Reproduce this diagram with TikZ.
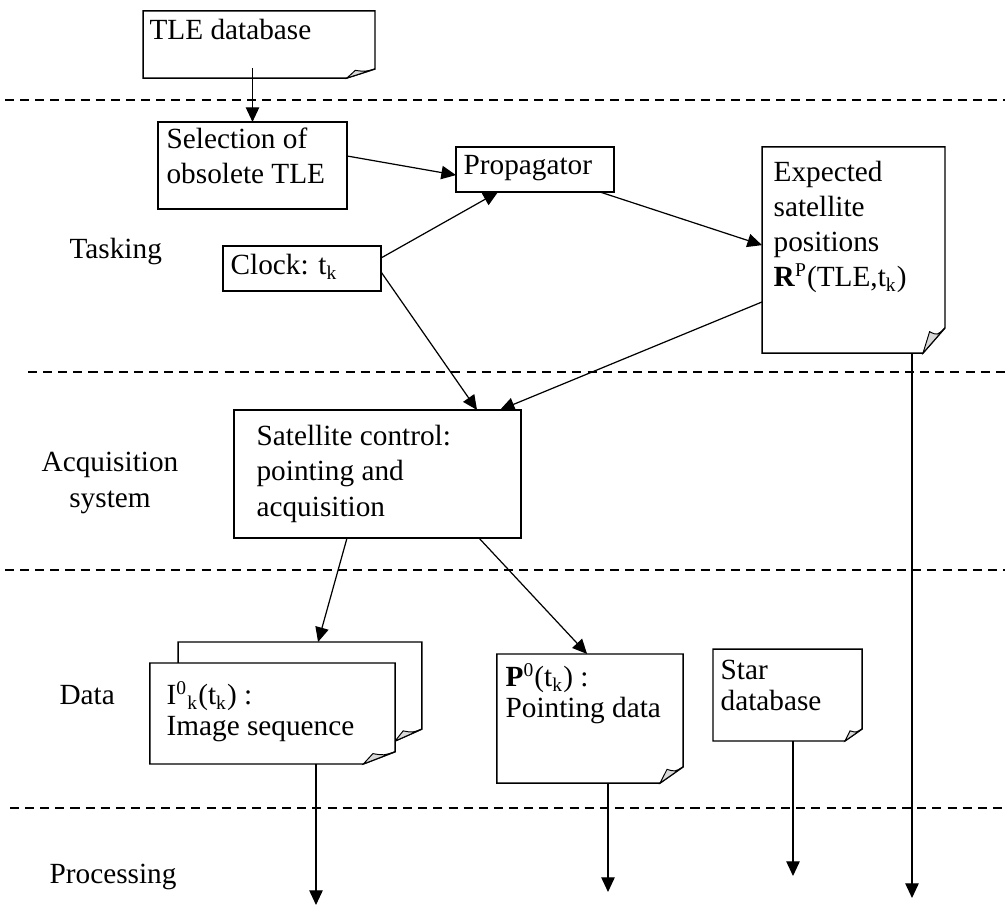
\documentclass[tikz,border=0pt]{standalone}
\usepackage{fontspec}
\setmainfont{Liberation Serif}
\usetikzlibrary{arrows.meta}

% folded page outline: node name, fold width, fold height (pt)
\newcommand{\dogear}[3]{%
  \draw[line width=0.6pt] (#1.north west) -- (#1.north east) -- ([yshift=#3pt]#1.south east)
    -- ([xshift=-#2pt]#1.south east) -- (#1.south west) -- cycle;
  \draw[fill=gray!30, line width=0.4pt] ([xshift=-#2pt]#1.south east) -- ([yshift=#3pt]#1.south east)
    .. controls ([xshift=-0.35*#2pt, yshift=0.7*#3pt]#1.south east) .. ([xshift=-0.7*#2pt, yshift=0.85*#3pt]#1.south east)
    -- cycle;
}

\begin{document}
\begin{tikzpicture}[x=0.41pt, y=-0.41pt, line width=0.5pt,
  font=\fontsize{12}{14.4}\selectfont,
  box/.style={draw, line width=0.6pt, inner sep=0pt, outer sep=0pt},
  paper/.style={fill=white, inner sep=0pt, outer sep=0pt},
  txt/.style={anchor=base west, align=left, inner sep=0pt},
  sep/.style={dash pattern=on 3.7pt off 2.5pt},
  flow/.style={-{Triangle[length=6pt,width=5.5pt]}}]
\useasboundingbox (0,0) rectangle (1005,907);

% layer separators
\draw[sep] (5,100) -- (1005,100);
\draw[sep] (28,372) -- (1005,372);
\draw[sep] (5,570) -- (1005,570);
\draw[sep] (10,808) -- (1005,808);

% layer names (base = last line)
\node[txt] at (69,259) {Tasking};
\node[align=center, anchor=base, inner sep=0pt] at (110,507) {Acquisition\\system};
\node[txt] at (59,704) {Data};
\node[txt] at (49,883) {Processing};

% tasking
\node[paper, minimum width=95.1pt, minimum height=27.5pt] (tle) at (259,44.5) {};
\dogear{tle}{11.5}{3.7}
\node[txt] at (149,40) {TLE database};
\node[box, minimum width=77.5pt, minimum height=35.7pt] (sel) at (252.5,165.5) {};
\node[txt] at (166,184) {Selection of\\obsolete TLE};
\node[box, minimum width=64.8pt, minimum height=18.5pt] (prop) at (535,169.5) {};
\node[txt] at (463,175) {Propagator};
\node[box, minimum width=64.8pt, minimum height=18.5pt] (clock) at (302,268.5) {};
\node[txt] at (230,275) {Clock: t\textsubscript{k}};
\node[paper, minimum width=75pt, minimum height=84.5pt] (exp) at (853.5,250) {};
\dogear{exp}{9}{10.3}
\node[txt] at (773,287) {Expected\\satellite\\positions\\\textbf{R}\textsuperscript{P}(TLE,t\textsubscript{k})};

% acquisition
\node[box, minimum width=117.7pt, minimum height=52.5pt] (sat) at (377.5,474) {};
\node[txt] at (256,516) {Satellite control:\\pointing and\\acquisition};

% data
\node[paper, minimum width=100pt, minimum height=40.6pt] (back) at (300,691.5) {};
\dogear{back}{11}{4.9}
\node[paper, minimum width=100.5pt, minimum height=41.4pt] (front) at (272.5,713.5) {};
\dogear{front}{13}{5}
\node[txt] at (166,735) {I\textsuperscript{0}\textsubscript{k}(t\textsubscript{k}) :\\[-2pt]Image sequence};
\node[paper, minimum width=76.3pt, minimum height=52.9pt] (point) at (590,718.5) {};
\dogear{point}{9.4}{6.6}
\node[txt] at (505,717) {\textbf{P}\textsuperscript{0}(t\textsubscript{k}) :\\[-2pt]Pointing data};
\node[paper, minimum width=61.1pt, minimum height=37.7pt] (star) at (787.5,695) {};
\dogear{star}{7}{4.9}
\node[txt] at (720,710) {Star\\[-2pt]database};

% processing inputs
\coordinate (p1) at (316,905);
\coordinate (p2) at (608,892);
\coordinate (p3) at (793,876);
\coordinate (p4) at (912,898);

% connectors
\draw[flow] ([yshift=4.1pt]tle.south -| sel.north) -- (sel.north);
\draw[flow] ([yshift=3.9pt]sel.east) -- ([yshift=-2.3pt]prop.west);
\draw[flow] ([yshift=4.3pt]clock.east) -- ([xshift=-15.2pt]prop.south);
\draw[flow] ([xshift=-5.7pt]prop.south east) -- ([yshift=2pt]exp.west);
\draw[flow] ([yshift=-1.4pt]clock.east) -- ([xshift=40.8pt]sat.north);
\draw[flow] ([yshift=-21.3pt]exp.west) -- ([xshift=50.2pt]sat.north);
\draw[flow] ([xshift=-12.5pt]sat.south) -- ([xshift=7.4pt]back.north);
\draw[flow] ([xshift=41.6pt]sat.south) -- ([xshift=-1.2pt]point.north);
\draw[flow] (front.south -| p1) -- (p1);
\draw[flow] (point.south -| p2) -- (p2);
\draw[flow] (star.south -| p3) -- (p3);
\draw[flow] (exp.south -| p4) -- (p4);
\end{tikzpicture}
\end{document}
